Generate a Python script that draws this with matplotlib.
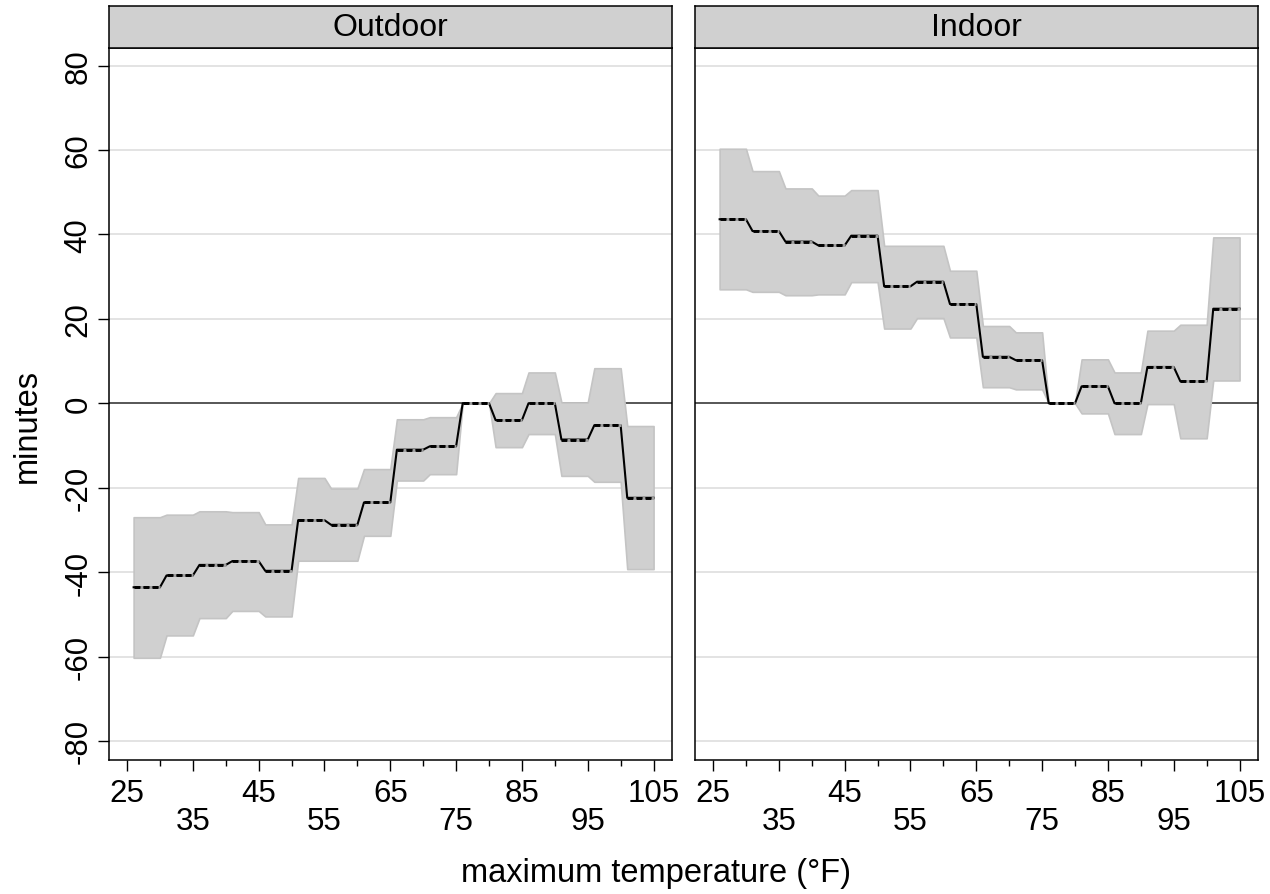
import matplotlib.pyplot as plt
import numpy as np

plt.rcParams['font.family'] = ['Liberation Sans', 'DejaVu Sans']

# temperature bins (°F)
bin_start = [26, 31, 36, 41, 46, 51, 56, 61, 66, 71, 76, 81, 86, 91, 96, 101]
bin_end = [30, 35, 40, 45, 50, 55, 60, 65, 70, 75, 80, 85, 90, 95, 100, 105]

# Outdoor: estimate and 95% band (minutes)
out_est = [-43.6, -40.8, -38.3, -37.4, -39.7, -27.7, -28.8, -23.5,
           -11.0, -10.2, 0.0, -4.0, 0.0, -8.6, -5.2, -22.4]
out_hi = [-27.0, -26.4, -25.6, -25.8, -28.7, -17.7, -20.2, -15.6,
          -3.8, -3.3, 0.0, 2.4, 7.3, 0.2, 8.3, -5.4]
out_lo = [-60.3, -55.0, -50.9, -49.2, -50.5, -37.3, -37.3, -31.4,
          -18.3, -16.8, 0.0, -10.4, -7.3, -17.2, -18.6, -39.3]

# Indoor
in_est = [43.6, 40.8, 38.3, 37.4, 39.7, 27.7, 28.8, 23.5,
          11.0, 10.2, 0.0, 4.0, 0.0, 8.6, 5.2, 22.4]
in_hi = [60.3, 55.0, 50.9, 49.2, 50.5, 37.3, 37.3, 31.4,
         18.3, 16.8, 0.0, 10.4, 7.3, 17.2, 18.6, 39.3]
in_lo = [27.0, 26.4, 25.6, 25.8, 28.7, 17.7, 20.2, 15.6,
         3.8, 3.3, 0.0, -2.4, -7.3, -0.2, -8.3, 5.4]

panels = ["Outdoor", "Indoor"]
yticks = [-80, -60, -40, -20, 0, 20, 40, 60, 80]
ytick_labels = ["-80", "-60", "-40", "-20", "0", "20", "40", "60", "80"]
xticks = [25, 35, 45, 55, 65, 75, 85, 95, 105]
xtick_labels = ["25", "\n35", "45", "\n55", "65", "\n75", "85", "\n95", "105"]

FS_TICK = 22.5
FS_TITLE = 23.5

fig = plt.figure(figsize=(12.7, 8.95), dpi=100)

lefts = [109 / 1270, 695 / 1270]
w = 563 / 1270
bot = 1 - 760.7 / 895
h = (760.7 - 49.3) / 895

data = [(out_est, out_lo, out_hi), (in_est, in_lo, in_hi)]

for i, (name, (est, lo, hi)) in enumerate(zip(panels, data)):
    ax = fig.add_axes([lefts[i], bot, w, h])
    ax.set_xlim(22.26, 107.8)
    ax.set_ylim(-84.45, 84.1)

    # step series through bin starts and ends
    x = np.column_stack([bin_start, bin_end]).ravel()
    y = np.repeat(est, 2)
    ylo = np.repeat(lo, 2)
    yhi = np.repeat(hi, 2)

    for g in yticks:
        if g != 0:
            ax.axhline(g, color='#dedede', lw=1.2, zorder=0)
    ax.axhline(0, color='#3a3a3a', lw=1.2, zorder=1)

    ax.fill_between(x, ylo, yhi, facecolor='#d0d0d0', edgecolor='#c4c4c4',
                    lw=1.2, zorder=2)
    ax.plot(x, y, color='black', lw=1.5, zorder=3)

    # flat parts drawn dashed on top
    nan = np.full(len(bin_start), np.nan)
    xf = np.column_stack([bin_start, bin_end, nan]).ravel()
    yf = np.column_stack([est, est, nan]).ravel()
    ax.plot(xf, yf, color='black', lw=2.1, dashes=(2.0, 1.1),
            gapcolor='#a0a0a0', zorder=4)

    for s in ax.spines.values():
        s.set_linewidth(1.1)
        s.set_color('black')

    ax.set_xticks(xticks)
    ax.set_xticklabels(xtick_labels, fontsize=FS_TICK, linespacing=0.94)
    ax.set_xticks(np.arange(30, 105, 10), minor=True)
    ax.tick_params(axis='x', which='major', length=8, width=1, pad=5)
    ax.tick_params(axis='x', which='minor', length=4.5, width=1)

    if i == 0:
        ax.set_yticks(yticks)
        ax.set_yticklabels(ytick_labels, fontsize=FS_TICK, rotation=90,
                           va='center')
        ax.tick_params(axis='y', length=8, width=1, pad=3)
    else:
        ax.set_yticks(yticks)
        ax.tick_params(axis='y', left=False, labelleft=False)

    # strip title
    sax = fig.add_axes([lefts[i], 1 - 49.3 / 895, w, 42 / 895])
    sax.set_facecolor('#d0d0d0')
    sax.set_xticks([])
    sax.set_yticks([])
    for s in sax.spines.values():
        s.set_linewidth(1.1)
    sax.text(0.5, 0.317, name, ha='center', va='baseline', fontsize=23,
             transform=sax.transAxes)

fig.text(27.5 / 1270, 1 - 426.5 / 895, "minutes", rotation=90, ha='center',
         va='center', fontsize=FS_TITLE)
fig.text(656 / 1270, 1 - 881.7 / 895, "maximum temperature (°F)",
         ha='center', va='baseline', fontsize=FS_TITLE)

fig.savefig("out.png", dpi=100)
